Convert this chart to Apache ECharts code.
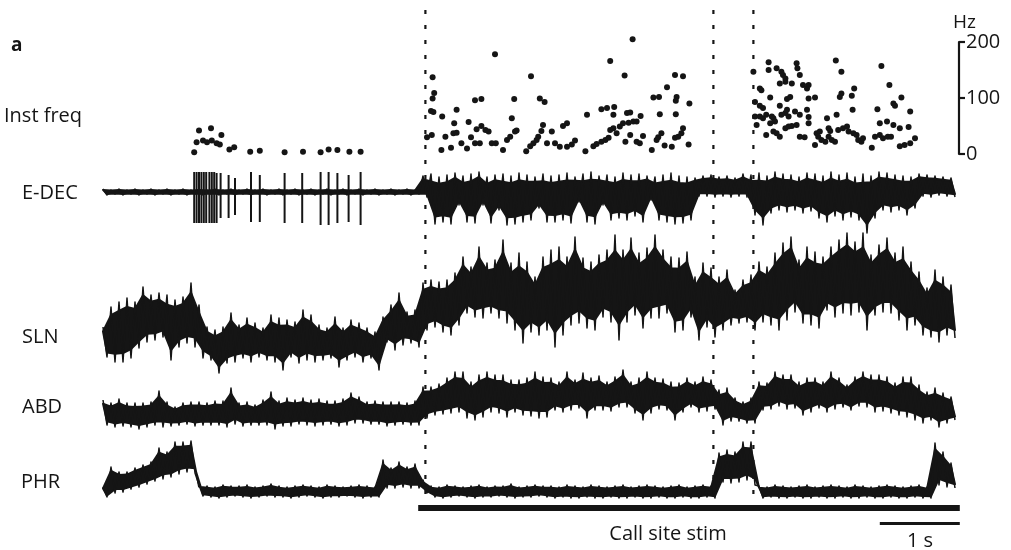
<!DOCTYPE html>
<html><head><meta charset="utf-8">
<script src="https://cdn.jsdelivr.net/npm/echarts@6/dist/echarts.min.js"></script>
<style>html,body{margin:0;padding:0;background:#fff}#c{width:1011px;height:550px}</style>
</head><body><div id="c"></div>
<script>
// ---- time base ----
const STEP = 0.1;            // s between envelope samples (hi at t, lo at t+STEP/2)
const T_MAX = 10.7;          // s shown

// ---- E-DEC envelope (a.u.) ----
const edecHi = [41,40,41,40,41,40,41,40,41,40,41,40,41,40,41,40,41,40,41,40,41,40,41,40,41,40,41,40,41,40,41,40,41,40,41,40,41,40,41,40,
  54,56,53,55,57,54,56,58,53,55,56,54,57,55,53,56,
  54,55,57,53,56,58,54,55,53,57,55,56,54,53,55,57,54,53,52,54,55,53,54,52,56,55,57,54,58,56,55,53,57,56,54,58,55,57,53,56,54,58,57,55,54,53,56,55,54,53,52];
const edecLo = [35,36,35,36,35,36,35,36,35,36,35,36,35,36,35,36,35,36,35,36,35,36,35,36,35,36,35,36,35,36,35,36,35,36,35,36,35,36,35,36,
  33,6,8,6,25,8,7,25,7,20,5,6,8,10,22,8,
  8,10,7,28,8,6,25,10,12,10,14,8,30,10,8,6,7,10,34,34,33,34,33,34,33,15,5,17,20,18,20,17,19,12,8,14,10,13,10,-3,12,20,18,20,15,22,34,33,35,34,33];
// E-DEC pre-stim spikes: time (s), top, bottom (a.u.)
const edecSpikeT   = [1.14,1.17,1.20,1.23,1.26,1.29,1.33,1.36,1.39,1.42,1.47,1.57,1.65,1.85,1.96,2.27,2.49,2.72,2.82,2.93,3.07,3.22];
const edecSpikeTop = [58,58,58,58,58,58,58,58,58,57,57,55,52,58,55,57,57,58,58,57,55,58];
const edecSpikeBot = [7,7,7,7,7,7,7,7,7,7,12,12,15,8,8,7,7,5,5,7,8,5];

// ---- SLN envelope ----
const slnHi = [48,68,73,77,73,88,80,82,80,75,78,92,70,48,45,48,62,50,57,52,47,60,57,55,53,65,60,50,47,58,47,55,52,47,43,58,70,82,63,65,92,95,93,95,102,118,108,128,112,115,135,112,122,113,98,118,
  125,128,118,138,117,113,120,125,140,125,137,122,127,140,125,118,117,123,98,112,107,98,105,85,95,100,113,108,122,132,138,115,128,123,118,128,135,142,133,142,120,130,137,122,128,113,103,87,105,98,90];
const slnLo = [18,13,13,17,27,33,35,38,15,28,32,28,17,15,2,12,13,17,13,18,15,13,5,18,12,15,13,15,17,8,15,18,13,17,5,33,25,30,32,28,45,48,43,40,50,62,58,57,62,57,52,45,32,43,40,45,
  28,40,50,52,47,45,58,53,35,53,60,47,57,57,62,43,45,58,35,48,38,45,50,52,53,45,53,50,45,55,63,52,50,47,65,58,62,60,63,45,60,63,62,55,45,50,40,38,33,40,37];

// ---- ABD envelope ----
const abdHi = [40,37,41,37,37,37,38,49,38,33,37,38,38,37,39,39,52,37,38,35,40,48,39,42,40,42,40,41,39,39,41,47,43,38,39,38,38,38,37,39,53,53,56,62,68,68,58,65,68,65,65,60,60,62,68,63,
  62,58,68,60,67,62,64,58,63,70,58,62,68,62,61,58,57,62,58,63,60,50,52,42,38,42,58,57,68,65,65,58,62,62,58,68,62,55,63,68,65,65,63,57,63,63,55,48,52,47,43];
const abdLo = [15,13,14,13,11,13,15,13,14,15,16,14,15,15,15,13,16,14,15,15,15,11,14,14,16,15,14,15,16,14,15,17,17,16,16,14,15,16,15,15,22,25,26,27,28,22,20,23,28,27,23,28,25,24,22,23,
  30,28,30,32,22,30,30,29,33,33,27,20,27,31,30,20,28,33,28,29,31,15,19,19,17,17,30,31,34,31,32,25,28,32,28,31,33,30,34,33,28,29,27,25,23,20,17,20,13,17,20];

// ---- PHR envelope ----
const phrHi = [13,33,28,28,32,35,38,52,48,58,58,59,15,14,13,15,14,14,15,13,14,16,14,13,14,15,14,13,15,14,13,14,15,14,13,40,32,38,33,36,20,14,13,15,14,13,14,15,13,14,14,16,13,14,15,14,
  14,13,15,14,13,15,14,13,14,15,13,14,15,14,13,14,15,13,14,15,14,47,50,48,58,58,14,13,15,14,13,14,15,13,14,15,14,13,15,14,13,14,15,14,13,14,15,13,57,48,37];
const phrLo = [3,7,8,11,13,16,19,21,23,26,28,27,4,3,2,3,4,3,2,3,4,3,3,2,3,4,3,2,3,3,4,3,2,3,3,12,12,13,12,12,7,3,2,3,4,3,2,3,3,4,3,2,3,3,4,3,
  2,3,2,2,3,2,2,3,2,2,3,2,2,3,2,2,3,2,2,3,2,18,17,18,20,15,2,3,2,2,3,2,2,3,2,2,3,2,2,3,2,2,3,2,2,3,2,2,15,13,12];

// ---- Instantaneous frequency [time s, Hz] ----
const freqPre = [[1.14,3],[1.17,21],[1.20,42],[1.25,24],[1.30,21],[1.35,46],[1.36,24],[1.42,19],[1.46,17],[1.48,34],[1.58,8],[1.64,12],[1.84,4],[1.96,6],[2.27,3],[2.50,4],[2.72,3],[2.82,8],[2.93,7],[3.08,4],[3.22,4]];
const freqStimA = [[4.12,137],[4.14,109],[4.12,99],[4.10,77],[4.13,75],[4.05,30],[4.11,34],[4.24,67],[4.23,7],[4.28,31],[4.35,11],[4.38,37],[4.42,38],[4.39,55],[4.42,79],[4.48,19],[4.55,10],[4.57,57],[4.60,30],[4.65,96],[4.73,98],[4.67,44],[4.65,19],[4.71,19],[4.73,50],[4.78,43],[4.82,40],[4.90,178],[4.86,19],[4.91,19],[5.00,7],[5.05,25],[5.09,31],[5.11,64],[5.14,98],[5.15,40],[5.17,42],[5.29,5],[5.35,139],[5.34,14],[5.38,19],[5.42,25],[5.44,31],[5.46,99],[5.52,93],[5.50,52],[5.48,41],[5.61,40],[5.55,19],[5.65,19],[5.71,13],[5.80,13],[5.75,50],[5.80,55],[5.86,17],[5.90,24],[6.03,5],[6.05,70],[6.13,14],[6.17,18],[6.23,22],[6.28,25],[6.32,29],[6.23,80],[6.30,82],[6.34,166],[6.34,43],[6.38,46],[6.38,70],[6.39,84],[6.42,37],[6.46,49],[6.50,55],[6.52,140],[6.53,22],[6.55,73],[6.59,74],[6.59,34],[6.62,205],[6.57,56],[6.63,58],[6.67,58],[6.67,22],[6.71,19],[6.72,68],[6.75,32],[6.86,7],[6.88,101],[6.95,102],[6.92,25],[6.94,30],[6.98,37],[6.96,71],[7.05,119],[7.02,15],[7.11,13],[7.15,141],[7.25,139],[7.17,102],[7.16,95],[7.16,71],[7.15,29],[7.19,31],[7.23,37],[7.25,46],[7.32,17],[7.33,90]];
const freqStimB = [[8.32,164],[8.32,150],[8.42,153],[8.48,147],[8.50,141],[8.53,135],[8.67,162],[8.68,153],[8.71,141],[8.13,147],[8.21,117],[8.23,114],[8.15,93],[8.21,86],[8.25,82],[8.15,67],[8.21,67],[8.25,64],[8.17,52],[8.34,101],[8.29,70],[8.36,67],[8.38,64],[8.46,126],[8.53,129],[8.61,126],[8.46,86],[8.34,55],[8.40,58],[8.29,34],[8.38,40],[8.42,37],[8.46,31],[8.48,70],[8.53,73],[8.55,79],[8.57,67],[8.55,98],[8.59,102],[8.53,46],[8.57,49],[8.61,50],[8.65,76],[8.67,52],[8.71,31],[8.77,30],[8.75,123],[8.80,117],[8.82,123],[8.71,70],[8.80,79],[8.82,99],[8.90,101],[8.82,66],[8.82,55],[8.90,16],[8.92,37],[8.96,40],[8.94,31],[8.98,25],[9.03,22],[9.05,64],[9.07,46],[9.09,41],[9.07,31],[9.11,25],[9.15,22],[9.16,167],[9.23,147],[9.17,70],[9.21,102],[9.23,108],[9.19,43],[9.25,46],[9.30,49],[9.36,104],[9.39,117],[9.37,79],[9.32,40],[9.38,37],[9.42,34],[9.44,25],[9.48,22],[9.50,28],[9.61,11],[9.65,31],[9.71,34],[9.75,28],[9.68,80],[9.73,157],[9.71,55],[9.80,58],[9.88,52],[9.81,31],[9.85,31],[9.83,123],[9.88,90],[9.90,86],[9.98,101],[9.96,46],[10.07,48],[9.96,14],[10.02,16],[10.09,19],[10.15,28],[10.09,76]];

// ---- events ----
const markerTimes = [4.03, 7.63, 8.13];   // dotted vertical lines (s)
const stimWindow = [3.94, 10.71];         // call site stimulation (s)
const scaleBar = [9.71, 10.71];           // 1 s scale bar
const freqTicks = [0, 100, 200];          // Hz

const INK = '#151515';
const FONT = '"Open Sans", sans-serif';
const CORE_TRIM = 0.15;   // drawing style: share of the band drawn as thin needles on each side

function grid(top, height) { return { left: 103, right: 52, top: top, height: height, containLabel: false }; }
const grids = [grid(42,112), grid(165,80), grid(225,150), grid(370,70), grid(430,70), grid(10,488), grid(505,6), grid(522,3)];
const xAxes = grids.map((g,i) => ({ gridIndex: i, type: 'value', min: 0, max: T_MAX, show: false }));
const yRange = [[0,200],[-15,65],[0,150],[0,70],[0,70],[0,1],[0,1],[0,1]];
const yAxes = yRange.map((r,i) => ({ gridIndex: i, type: 'value', min: r[0], max: r[1], show: false }));
yAxes[0] = {
  gridIndex: 0, type: 'value', position: 'right', min: freqTicks[0], max: freqTicks[2], interval: freqTicks[1]-freqTicks[0],
  show: true, name: 'Hz', nameLocation: 'end', nameGap: 9,
  nameTextStyle: { color: INK, fontSize: 19, fontFamily: FONT, align: 'left', padding: [0,0,0,-6] },
  axisLine: { show: true, onZero: false, lineStyle: { color: INK, width: 2.2 } },
  axisTick: { show: true, length: 6, lineStyle: { color: INK, width: 2.2 } },
  axisLabel: { color: INK, fontSize: 20, fontFamily: FONT, margin: 7 },
  splitLine: { show: false }
};

function band(idx, hi, lo) {
  return {
    type: 'custom', xAxisIndex: idx, yAxisIndex: idx, data: [[0,0]], silent: true, clip: false,
    renderItem: function (params, api) {
      const zig = [], top = [], bottom = [];
      for (let i = 0; i < hi.length; i++) {
        const h = hi[i] - lo[i];
        zig.push(api.coord([i*STEP, hi[i]]), api.coord([i*STEP + STEP/2, lo[i]]));
        top.push(api.coord([i*STEP, hi[i] - CORE_TRIM*h]));
        bottom.unshift(api.coord([i*STEP + STEP/2, lo[i] + CORE_TRIM*h]));
      }
      return { type: 'group', children: [
        { type: 'polygon', shape: { points: top.concat(bottom) }, style: { fill: INK, stroke: INK, lineWidth: 2, lineJoin: 'round' } },
        { type: 'polyline', shape: { points: zig }, style: { stroke: INK, lineWidth: 1.5, fill: null, lineJoin: 'round' } }
      ] };
    }
  };
}
function vlineSeries(idx, data, top, bottom, style) {
  return {
    type: 'custom', xAxisIndex: idx, yAxisIndex: idx, data: data, silent: true, clip: false,
    renderItem: function (params, api) {
      const t = api.value(0);
      const a = api.coord([t, top(params.dataIndex)]), b = api.coord([t, bottom(params.dataIndex)]);
      return { type: 'line', shape: { x1: a[0], y1: a[1], x2: b[0], y2: b[1] }, style: style };
    }
  };
}
function rectSeries(idx, range) {
  return {
    type: 'custom', xAxisIndex: idx, yAxisIndex: idx, data: [[range[0], range[1]]], silent: true, clip: false,
    renderItem: function (params, api) {
      const a = api.coord([api.value(0), 1]), b = api.coord([api.value(1), 0]);
      return { type: 'rect', shape: { x: a[0], y: a[1], width: b[0]-a[0], height: b[1]-a[1] }, style: { fill: INK } };
    }
  };
}
const dotStyle = { type: 'scatter', xAxisIndex: 0, yAxisIndex: 0, symbol: 'circle', symbolSize: 6, itemStyle: { color: INK, opacity: 1 }, silent: true, clip: false };

const series = [
  Object.assign({}, dotStyle, { data: freqPre }),
  Object.assign({}, dotStyle, { data: freqStimA }),
  Object.assign({}, dotStyle, { data: freqStimB }),
  band(1, edecHi, edecLo),
  vlineSeries(1, edecSpikeT.map(t => [t]), i => edecSpikeTop[i], i => edecSpikeBot[i], { stroke: INK, lineWidth: 2 }),
  band(2, slnHi, slnLo),
  band(3, abdHi, abdLo),
  band(4, phrHi, phrLo),
  vlineSeries(5, markerTimes.map(t => [t]), () => 1, () => 0, { stroke: INK, lineWidth: 2.2, lineDash: [4, 11] }),
  rectSeries(6, stimWindow),
  rectSeries(7, scaleBar)
];

function label(text, x, y, opts) {
  return Object.assign({ type: 'text', x: x, y: y, silent: true,
    style: Object.assign({ text: text, fill: INK, font: '20px ' + FONT, align: 'left', verticalAlign: 'middle' }, (opts||{})) });
}
const graphic = [
  label('a', 11, 46, { font: 'bold 19px ' + FONT }),
  label('Inst freq', 4, 116),
  label('E-DEC', 22, 193),
  label('SLN', 22, 337),
  label('ABD', 22, 407),
  label('PHR', 21, 482),
  label('Call site stim', 668, 534, { align: 'center' }),
  label('1 s', 920, 541, { align: 'center' })
];

const chart = echarts.init(document.getElementById('c'), null, { renderer: 'canvas' });
chart.setOption({
  animation: false, backgroundColor: '#ffffff',
  grid: grids, xAxis: xAxes, yAxis: yAxes, series: series, graphic: graphic
});
</script></body></html>
